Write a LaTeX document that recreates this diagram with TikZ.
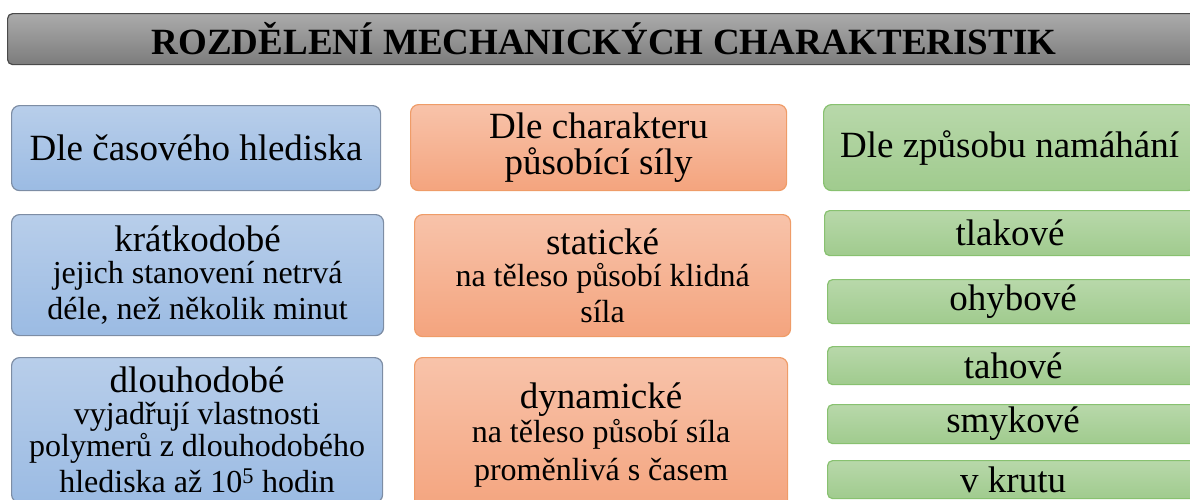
\documentclass[tikz,border=0pt]{standalone}
\usepackage{fontspec}
\setmainfont{Liberation Serif}
\definecolor{titletop}{HTML}{ABABAB}
\definecolor{titlebot}{HTML}{7C7C7C}
\definecolor{titleline}{HTML}{4A4A4A}
\definecolor{timetop}{HTML}{B8CEEA}
\definecolor{timebot}{HTML}{9BBBE3}
\definecolor{timeline}{HTML}{7D8DA4}
\definecolor{forcetop}{HTML}{F8C3AA}
\definecolor{forcebot}{HTML}{F4A47E}
\definecolor{forceline}{HTML}{EF9C68}
\definecolor{loadtop}{HTML}{B8D8AA}
\definecolor{loadbot}{HTML}{A0CB8E}
\definecolor{loadline}{HTML}{88C170}
\tikzset{
      card/.style = { anchor=north west, align=flush center, inner sep=0pt,
                      line width=1.2pt, rounded corners=8pt, font=\head },
     title/.style = { card, rounded corners=5pt, draw=titleline,
                      top color=titletop, bottom color=titlebot, font=\head\bfseries },
   timebox/.style = { card, draw=timeline, top color=timetop, bottom color=timebot },
  forcebox/.style = { card, draw=forceline, top color=forcetop, bottom color=forcebot },
   loadbox/.style = { card, draw=loadline, top color=loadtop, bottom color=loadbot },
}
\newcommand*{\head}{\fontsize{37}{36}\selectfont}
\newcommand*{\sub}{\fontsize{32}{32}\selectfont}

\begin{document}
\begin{tikzpicture}[x=1pt, y=-1pt]
  \useasboundingbox (0,0) rectangle (1190,499);
  \clip (0,0) rectangle (1190,499);

  \node [title, minimum width=1193pt, minimum height=51pt] (title) at (7,13)
    {ROZDĚLENÍ MECHANICKÝCH CHARAKTERISTIK};

  % column headers
  \node [timebox, minimum width=369pt, minimum height=85pt] (time) at (11,105)
    {Dle časového hlediska};
  \node [forcebox, minimum width=376pt, minimum height=86pt] (force) at (410,104)
    {Dle charakteru\\ působící síly};
  \node [loadbox, minimum width=372pt, minimum height=86pt] (load) at (823,104)
    {Dle způsobu namáhání};

  % time
  \node [timebox, text width=372pt, minimum height=121pt] (short) at (11,214)
    {krátkodobé\\\sub jejich stanovení netrvá\\ déle, než několik minut};
  \node [timebox, text width=371pt, minimum height=145pt] (long) at (11,357)
    {dlouhodobé\\\sub vyjadřují vlastnosti\\ polymerů z dlouhodobého\\
     hlediska až 10\textsuperscript{5} hodin};

  % force
  \node [forcebox, text width=376pt, minimum height=122pt] (static) at (414,214)
    {statické\\\sub na těleso působí klidná\\ síla};
  \node [forcebox, text width=373pt, minimum height=154pt] (dynamic) at (414,357)
    {dynamické\\[2pt]\sub na těleso působí síla\\[2pt] proměnlivá s časem};

  % load
  \foreach \name/\x/\y/\h/\txt in {tlak/824/210/45/tlakové, ohyb/827/279/44/ohybové,
      tah/827/346/38/tahové, smyk/827/404/39/smykové, krut/827/460/38/v krutu}
    \node [loadbox, rounded corners=5pt, minimum width=371pt, minimum height=\h pt]
      (\name) at (\x,\y) {\txt};
\end{tikzpicture}
\end{document}
